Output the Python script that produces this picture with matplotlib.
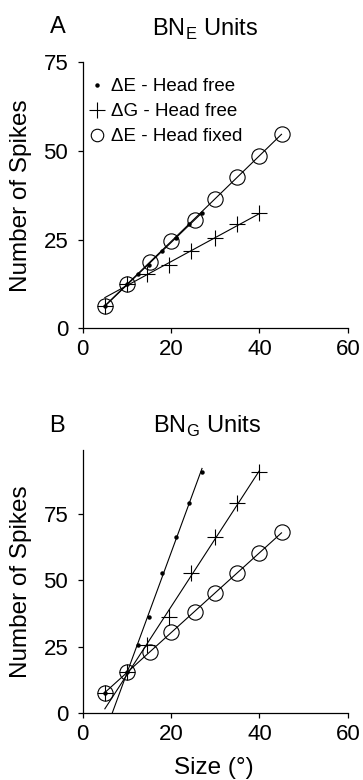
import numpy as np
import matplotlib.pyplot as plt
from matplotlib.lines import Line2D

plt.rcParams['font.family'] = ['Liberation Sans', 'DejaVu Sans']

# stimulus size (deg) for each series
size_dE_free = [5, 10, 12.5, 15, 18, 21, 24, 27]
size_dG_free = [5, 10, 14.5, 19.5, 24.5, 30, 35, 40]
size_dE_fixed = [5, 10, 15.3, 20, 25.3, 30, 35, 40, 45]

# BN_E units: head-free spikes shared by the dE and dG plots
spikes_E_free = [6.3, 12.5, 15.2, 17.9, 21.7, 25.4, 29.3, 32.5]
spikes_E_fixed = [6.3, 12.5, 18.8, 24.6, 30.7, 36.5, 42.8, 48.6, 54.8]

# BN_G units
spikes_G_free = [7.7, 15.5, 25.8, 36.2, 52.8, 66.3, 78.9, 90.7]
spikes_G_fixed = [7.7, 15.5, 23.1, 30.4, 38.1, 45.4, 52.8, 60.1, 68.1]

xticks = [0, 20, 40, 60]
yticks = [0, 25, 50, 75]

fig = plt.figure(figsize=(3.63, 7.8), dpi=100)
ax_a = fig.add_axes([0.228, 0.579, 0.730, 0.341])
ax_b = fig.add_axes([0.228, 0.0855, 0.730, 0.3376])

lw = 0.8
styles = [
    dict(marker='o', ms=3.2, mfc='black', mec='black', mew=0),
    dict(marker='+', ms=11, mec='black', mew=0.8),
    dict(marker='o', ms=11, mfc='none', mec='black', mew=0.8),
]


def fit_line(ax, x, y):
    # regression on sizes >= 10 deg, drawn over the full tested range
    x = np.asarray(x, float)
    y = np.asarray(y, float)
    keep = x >= 10
    k, b = np.polyfit(x[keep], y[keep], 1)
    xs = np.array([x.min(), x.max()])
    ax.plot(xs, k * xs + b, color='black', lw=lw, zorder=2)


def draw(ax, series, ymax):
    for (x, y), st in zip(series, styles):
        fit_line(ax, x, y)
        ax.plot(x, y, ls='none', zorder=3, **st)
    ax.set_xlim(0, 60)
    ax.set_ylim(0, ymax)
    ax.set_xticks(xticks)
    ax.set_yticks(yticks)
    for s in ['top', 'right']:
        ax.spines[s].set_visible(False)
    for s in ['left', 'bottom']:
        ax.spines[s].set_linewidth(0.9)
    ax.tick_params(axis='x', direction='out', length=3.5, width=0.9,
                   labelsize=16, pad=4.5)
    ax.tick_params(axis='y', direction='out', length=3.5, width=0.9,
                   labelsize=16, pad=7)
    ax.set_ylabel('Number of Spikes', fontsize=17.5)
    ax.yaxis.set_label_coords(-0.191, 0.5)


draw(ax_a, [(size_dE_free, spikes_E_free),
            (size_dG_free, spikes_E_free),
            (size_dE_fixed, spikes_E_fixed)], 75)
draw(ax_b, [(size_dE_free, spikes_G_free),
            (size_dG_free, spikes_G_free),
            (size_dE_fixed, spikes_G_fixed)], 99)

ax_b.set_xlabel('Size (°)', fontsize=17.5)
ax_b.xaxis.set_label_coords(0.495, -0.166)

handles = [Line2D([], [], ls='none', **st) for st in styles]
handles[2].set_markersize(9)
ax_a.legend(handles, ['ΔE - Head free', 'ΔG - Head free', 'ΔE - Head fixed'],
            loc='upper left', bbox_to_anchor=(0.01, 0.955), frameon=False,
            fontsize=13.5, handlelength=0.8, handletextpad=0.35,
            labelspacing=0.42, borderpad=0.2, borderaxespad=0)

fig.text(0.16, 0.9577, 'A', fontsize=17, ha='center', va='baseline')
fig.text(0.565, 0.9538, r'BN$_\mathregular{E}$ Units', fontsize=17,
         ha='center', va='baseline')
fig.text(0.157, 0.4465, 'B', fontsize=17, ha='center', va='baseline')
fig.text(0.569, 0.4453, r'BN$_\mathregular{G}$ Units', fontsize=17,
         ha='center', va='baseline')

fig.savefig('out.png', dpi=100)
